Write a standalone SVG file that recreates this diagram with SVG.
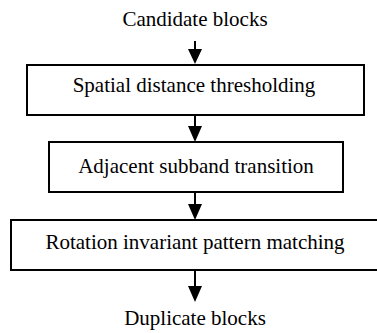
<svg xmlns="http://www.w3.org/2000/svg" width="377" height="333" viewBox="0 0 377 333">
<style>
.box{fill:#fff;stroke:#000;stroke-width:2}
.t{font-family:"Liberation Serif","Times New Roman",serif;font-size:21px;fill:#000;text-anchor:middle}
.ln{stroke:#000;stroke-width:2;fill:none}
.hd{fill:#000}
</style>
<rect width="377" height="333" fill="#fff"/>
<g id="connectors">
<line class="ln" x1="195" y1="41" x2="195" y2="52"/><polygon class="hd" points="188,49 202,49 195,64"/>
<line class="ln" x1="195" y1="116" x2="195" y2="128"/><polygon class="hd" points="188,126 202,126 195,142"/>
<line class="ln" x1="195" y1="193" x2="195" y2="206"/><polygon class="hd" points="188,204 202,204 195,220"/>
<line class="ln" x1="195" y1="271" x2="195" y2="289"/><polygon class="hd" points="188,286 202,286 195,302"/>
</g>
<g id="start"><text class="t" x="195" y="26">Candidate blocks</text></g>
<g id="n1"><rect class="box" x="27" y="65" width="337" height="50"/><text class="t" x="194" y="92">Spatial distance thresholding</text></g>
<g id="n2"><rect class="box" x="49" y="142" width="294" height="50"/><text class="t" x="196" y="173">Adjacent subband transition</text></g>
<g id="n3"><rect class="box" x="11" y="220" width="370" height="50"/><text class="t" x="195" y="249">Rotation invariant pattern matching</text></g>
<g id="end"><text class="t" x="195" y="325">Duplicate blocks</text></g>
</svg>
